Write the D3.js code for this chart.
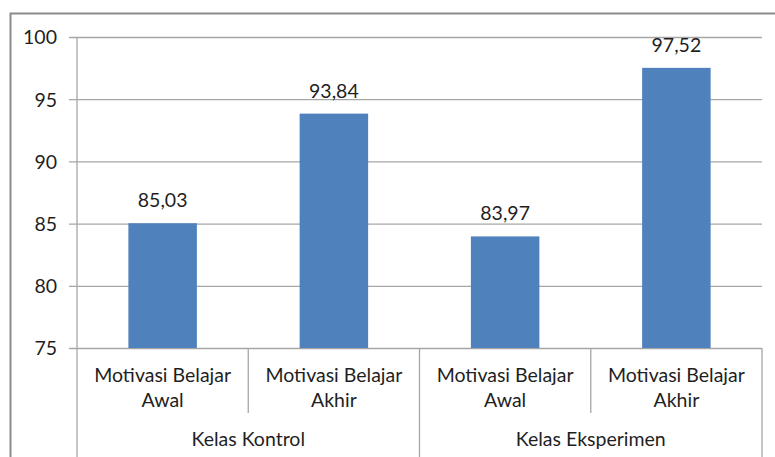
<!DOCTYPE html>
<html>
<head>
<meta charset="utf-8">
<script src="https://cdn.jsdelivr.net/npm/d3@7"></script>
<style>
  body { margin: 0; background: #fff; }
  text { font-family: Lato, "Open Sans", sans-serif; fill: #1f1f1f; }
</style>
</head>
<body>
<svg></svg>
<script>
// data
let groups = ['Kelas Kontrol', 'Kelas Eksperimen']
let categories = ['Motivasi Belajar Awal', 'Motivasi Belajar Akhir', 'Motivasi Belajar Awal', 'Motivasi Belajar Akhir']
let categoryGroup = [0, 0, 1, 1]
let values = [85.03, 93.84, 83.97, 97.52]
let yTicks = [75, 80, 85, 90, 95, 100]

let width = 775
let height = 457
let plotLeft = 77
let plotRight = 762
let plotTop = 37
let plotBottom = 348
let fontSize = '19.5px'

let svg = d3.select('svg')
svg.attr('width', width).attr('height', height)

// outer frame (right and bottom run off the picture)
svg.append('path')
    .attr('d', 'M10.5,' + height + 'V13.5H' + width)
    .attr('fill', 'none')
    .attr('stroke', '#8c8c8c')
    .attr('stroke-width', 2)

let idx = categories.map((c, i) => i)

let xScale = d3.scaleBand()
    .domain(idx)
    .range([plotLeft, plotRight])
    .paddingInner(0)
    .paddingOuter(0)

let yScale = d3.scaleLinear()
    .domain([75, 100])
    .range([plotBottom, plotTop])

// gridlines
let yAxis = d3.axisLeft(yScale)
    .tickValues(yTicks)
    .tickSize(-(plotRight - plotLeft))
    .tickPadding(20)
svg.append('g')
    .attr('transform', 'translate(' + plotLeft + ',0)')
    .call(yAxis)
    .call(g => g.select('.domain').remove())
    .call(g => g.selectAll('.tick line').attr('stroke', '#a6a6a6').attr('stroke-width', 1.3).attr('x1', -8))
    .call(g => g.selectAll('.tick text').style('font-size', fontSize).attr('fill', '#1f1f1f').attr('dy', '0.35em'))

// bars
svg.selectAll('rect.bar')
    .data(values)
    .enter()
    .append('rect')
    .attr('class', 'bar')
    .attr('x', (d, i) => xScale(i) + xScale.bandwidth() * 0.3)
    .attr('width', xScale.bandwidth() * 0.4)
    .attr('y', d => yScale(d))
    .attr('height', d => plotBottom - yScale(d))
    .attr('fill', '#4f81bd')

// value labels
svg.selectAll('text.val')
    .data(values)
    .enter()
    .append('text')
    .attr('class', 'val')
    .attr('x', (d, i) => xScale(i) + xScale.bandwidth() / 2)
    .attr('y', d => yScale(d) - 16)
    .attr('text-anchor', 'middle')
    .style('font-size', fontSize)
    .text(d => d.toFixed(2).replace('.', ','))

// y axis line
svg.append('line')
    .attr('x1', plotLeft).attr('x2', plotLeft)
    .attr('y1', plotTop).attr('y2', height)
    .attr('stroke', '#a6a6a6').attr('stroke-width', 1.3)

// category separators: short inside group, long between groups
let edges = d3.range(categories.length + 1)
svg.selectAll('line.sep')
    .data(edges.slice(1))
    .enter()
    .append('line')
    .attr('class', 'sep')
    .attr('x1', i => i === categories.length ? plotRight : xScale(i))
    .attr('x2', i => i === categories.length ? plotRight : xScale(i))
    .attr('y1', plotBottom)
    .attr('y2', i => (i === categories.length || categoryGroup[i] !== categoryGroup[i - 1]) ? height : 413)
    .attr('stroke', '#a6a6a6').attr('stroke-width', 1.3)

// category labels (two lines)
categories.forEach((c, i) => {
    let words = c.split(' ')
    let t = svg.append('text')
        .attr('text-anchor', 'middle')
        .style('font-size', fontSize)
    t.append('tspan')
        .attr('x', xScale(i) + xScale.bandwidth() / 2)
        .attr('y', 382)
        .text(words.slice(0, 2).join(' '))
    t.append('tspan')
        .attr('x', xScale(i) + xScale.bandwidth() / 2)
        .attr('y', 407)
        .text(words.slice(2).join(' '))
})

// group labels
groups.forEach((g, gi) => {
    let members = idx.filter(i => categoryGroup[i] === gi)
    let x0 = xScale(members[0])
    let x1 = xScale(members[members.length - 1]) + xScale.bandwidth()
    svg.append('text')
        .attr('x', (x0 + x1) / 2)
        .attr('y', 446)
        .attr('text-anchor', 'middle')
        .style('font-size', fontSize)
        .text(g)
})
</script>
</body>
</html>
